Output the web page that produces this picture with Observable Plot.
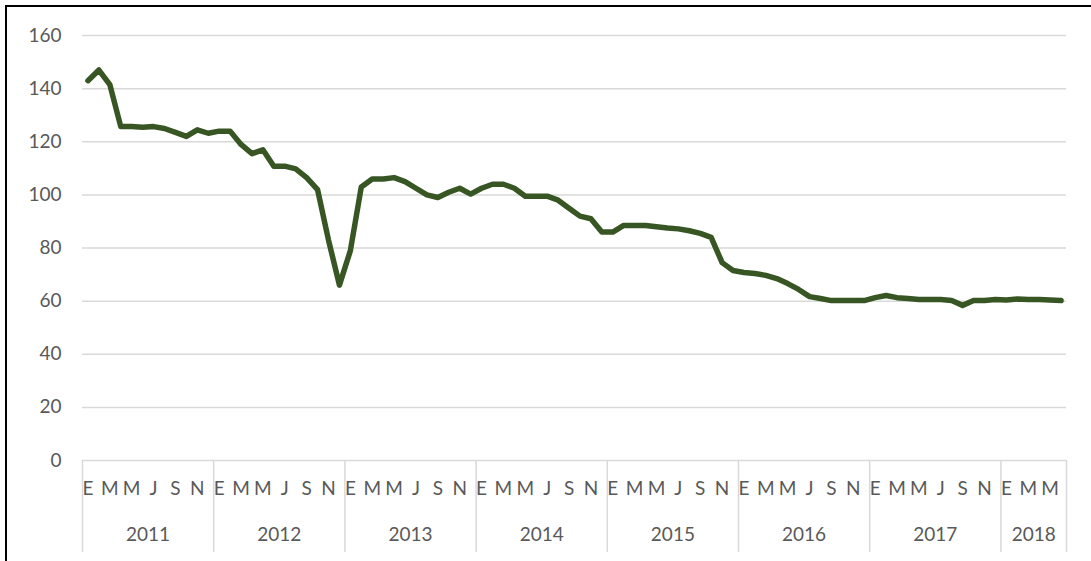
<!DOCTYPE html>
<html>
<head>
<meta charset="utf-8">
<script src="https://cdn.jsdelivr.net/npm/d3@7"></script>
<script src="https://cdn.jsdelivr.net/npm/@observablehq/plot@0.6"></script>
<style>
  html, body { margin: 0; padding: 0; background: #fff; }
  #wrap { position: relative; width: 1091px; height: 561px; overflow: hidden; }
  #frame { position: absolute; left: 5px; top: 5px; width: 1200px; height: 700px;
           border-left: 2px solid #000; border-top: 2px solid #000; }
  #chart { position: absolute; left: 0; top: 0; }
</style>
</head>
<body>
<div id="wrap"><div id="frame"></div><div id="chart"></div></div>
<script>
const years = ["2011", "2012", "2013", "2014", "2015", "2016", "2017", "2018"];
const monthLabels = ["E", "M", "M", "J", "S", "N"]; // every second month
const yTicks = [0, 20, 40, 60, 80, 100, 120, 140, 160];
const values2011 = [143, 147, 141.5, 125.7, 125.7, 125.5, 125.7, 125, 123.5, 122, 124.5, 123.2];
const values2012 = [124, 124, 119, 115.5, 117, 110.8, 110.8, 109.8, 106.5, 102, 83, 66];
const values2013 = [79, 103, 106, 106, 106.5, 105, 102.5, 100, 99, 101, 102.5, 100.3];
const values2014 = [102.5, 104, 104, 102.5, 99.5, 99.5, 99.5, 98, 95, 92, 91, 86];
const values2015 = [86, 88.5, 88.5, 88.5, 88, 87.5, 87.2, 86.5, 85.5, 84, 74.5, 71.5];
const values2016 = [70.8, 70.4, 69.7, 68.5, 66.6, 64.4, 61.7, 61, 60.2, 60.2, 60.2, 60.2];
const values2017 = [61.3, 62.1, 61.3, 61, 60.6, 60.6, 60.6, 60.2, 58.4, 60.2, 60.2, 60.6];
const values2018 = [60.4, 60.8, 60.6, 60.6, 60.4, 60.2];

const values = [].concat(values2011, values2012, values2013, values2014,
                         values2015, values2016, values2017, values2018);
const n = values.length;
const data = values.map((v, i) => ({i: i + 0.5, v}));

const monthTicks = d3.range(0, n, 2).map(i => i + 0.5);
const yearStarts = years.map((y, k) => k * 12).concat([n]);
const yearMids = years.map((y, k) => k * 12 + Math.min(12, n - k * 12) / 2);

const textColor = "#595959";
const gridColor = "#d9d9d9";
const font = "Lato, 'Open Sans', sans-serif";
const fs = 19;

const chart = Plot.plot({
  width: 1091,
  height: 561,
  marginLeft: 82,
  marginRight: 25,
  marginTop: 35,
  marginBottom: 101,
  style: {fontFamily: font, fontSize: fs + "px", background: "transparent", overflow: "visible"},
  x: {type: "linear", domain: [0, n], axis: null, label: null},
  y: {domain: [0, 160], axis: null, label: null},
  marks: [
    Plot.gridY(yTicks.filter(d => d > 0), {stroke: gridColor, strokeOpacity: 1, strokeWidth: 1.5}),
    Plot.ruleY([0], {stroke: gridColor, strokeWidth: 1.5}),
    Plot.axisY(yTicks, {tickSize: 0, tickPadding: 21, fontSize: fs, color: textColor, fontFamily: font, label: null}),
    Plot.axisX(yearStarts, {tickSize: 92, tickFormat: () => "", stroke: gridColor, strokeWidth: 1.5, strokeOpacity: 1, label: null}),
    Plot.axisX(monthTicks, {tickSize: 0, tickPadding: 21, fontSize: fs, color: textColor, fontFamily: font, label: null,
      tickFormat: d => monthLabels[Math.round(((d - 0.5) % 12) / 2)]}),
    Plot.axisX(yearMids, {tickSize: 0, tickPadding: 67, fontSize: fs, color: textColor, fontFamily: font, label: null,
      tickFormat: (d, k) => years[k]}),
    Plot.line(data, {x: "i", y: "v", stroke: "#375623", strokeWidth: 5.5, strokeLinejoin: "round", strokeLinecap: "round"})
  ]
});
document.getElementById("chart").appendChild(chart);
</script>
</body>
</html>
